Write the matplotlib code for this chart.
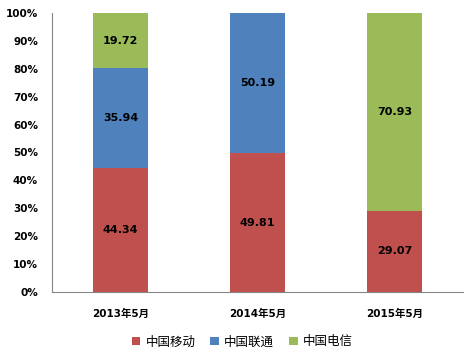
import matplotlib
matplotlib.use("Agg")
import matplotlib.pyplot as plt
import numpy as np

plt.rcParams['font.family'] = ['DejaVu Sans', 'Noto Sans CJK SC']

categories = ['2013年5月', '2014年5月', '2015年5月']
series_names = ['中国移动', '中国联通', '中国电信']
mobile = [44.34, 49.81, 29.07]
unicom = [35.94, 50.19, 0]
telecom = [19.72, 0, 70.93]
colors = ['#C0504D', '#4F81BD', '#9BBB59']
yticks = [0, 10, 20, 30, 40, 50, 60, 70, 80, 90, 100]
yticklabels = ['0%', '10%', '20%', '30%', '40%', '50%', '60%', '70%', '80%', '90%', '100%']

fig = plt.figure(figsize=(4.75, 3.58), dpi=100)
ax = fig.add_axes([0.1095, 0.1844, 0.8655, 0.7793])
x = np.arange(len(categories))
bottom = np.zeros(len(categories))
handles = []
for name, vals, c in zip(series_names, [mobile, unicom, telecom], colors):
    vals = np.array(vals, dtype=float)
    b = ax.bar(x, vals, 0.4, bottom=bottom, color=c, label=name)
    handles.append(b)
    for xi, v, bt in zip(x, vals, bottom):
        if v > 0:
            ax.text(xi, bt + v / 2, f'{v:.2f}', ha='center', va='center',
                    fontsize=8, fontweight='bold', color='black')
    bottom += vals

ax.set_xlim(-0.5, 2.5)
ax.set_ylim(0, 100)
ax.set_yticks(yticks)
ax.set_yticklabels(yticklabels, fontsize=7.5, fontweight='bold')
ax.set_xticks(x)
ax.set_xticklabels(categories, fontsize=7.5, fontweight='bold')
for s in ['top', 'right']:
    ax.spines[s].set_visible(False)
for s in ['left', 'bottom']:
    ax.spines[s].set_color('#868686')
ax.tick_params(axis='y', length=0, pad=10)
ax.tick_params(axis='x', length=0, pad=12)

fig.legend(handles=handles, labels=series_names, loc='center', ncol=3,
           bbox_to_anchor=(0.51, 0.045), frameon=False,
           prop={'family': ['Noto Sans CJK SC', 'DejaVu Sans'], 'size': 9},
           handlelength=0.7, handleheight=0.7, columnspacing=1.2, handletextpad=0.4)

fig.savefig('out.png', dpi=100)
